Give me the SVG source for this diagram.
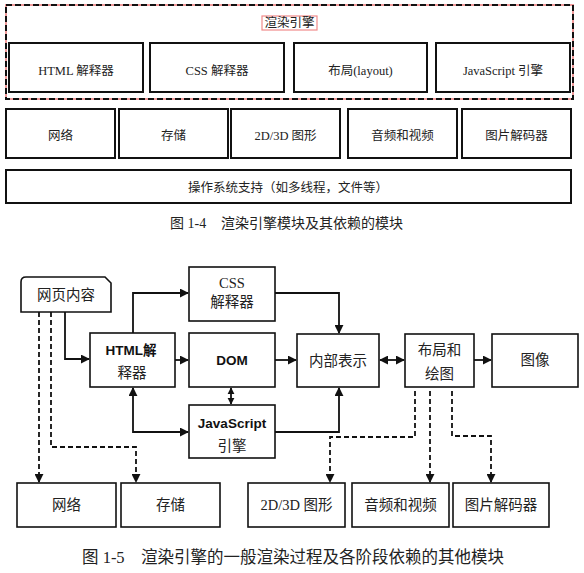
<svg xmlns="http://www.w3.org/2000/svg" width="584" height="573" viewBox="0 0 584 573">
<defs>
<style>
.box{fill:#fff;stroke:#111;stroke-width:2}
.box2{fill:#fff;stroke:#111;stroke-width:1.6}
.t{font-family:"Liberation Serif","Noto Sans CJK SC",serif;font-size:12.5px;fill:#222;text-anchor:middle;dominant-baseline:central}
.t2{font-family:"Liberation Serif","Noto Sans CJK SC",serif;font-size:14.5px;fill:#222;text-anchor:middle;dominant-baseline:central}
.tb{font-family:"Liberation Sans","Noto Sans CJK SC",sans-serif;font-size:13.5px;font-weight:bold;fill:#111;text-anchor:middle;dominant-baseline:central}
.cap{font-family:"Liberation Serif","Noto Sans CJK SC",serif;font-size:14px;fill:#222;dominant-baseline:central}
.cap2{font-family:"Liberation Serif","Noto Sans CJK SC",serif;font-size:16.5px;fill:#222;dominant-baseline:central}
.ln{fill:none;stroke:#111;stroke-width:1.8}
.dl{fill:none;stroke:#111;stroke-width:1.8;stroke-dasharray:5 3}
</style>
<marker id="ah" viewBox="0 0 10 10" refX="9" refY="5" markerWidth="5" markerHeight="5" orient="auto-start-reverse" markerUnits="strokeWidth">
<path d="M0,0 L10,5 L0,10 z" fill="#111"/>
</marker>
<marker id="ahs" viewBox="0 0 10 10" refX="9" refY="5" markerWidth="4" markerHeight="4" orient="auto-start-reverse" markerUnits="strokeWidth">
<path d="M0,0 L10,5 L0,10 z" fill="#111"/>
</marker>
</defs>
<rect width="584" height="573" fill="#fff"/>

<!-- Figure 1-4 -->
<g id="engine">
<rect x="6" y="5" width="567" height="94" fill="none" stroke="#f19a9a" stroke-width="2"/>
<rect x="6" y="5" width="567" height="94" fill="none" stroke="#111" stroke-width="2" stroke-dasharray="6 3"/>
<rect x="262" y="16" width="55" height="14" fill="#fff" stroke="#f08a8a" stroke-width="1.2"/>
<text class="t" x="289.5" y="23">渲染引擎</text>
</g>
<g id="html-parser"><rect class="box" x="9" y="43" width="134" height="49"/><text class="t" x="76" y="71">HTML 解释器</text></g>
<g id="css-parser"><rect class="box" x="150" y="43" width="134" height="49"/><text class="t" x="217" y="71">CSS 解释器</text></g>
<g id="layout"><rect class="box" x="294" y="43" width="133" height="49"/><text class="t" x="360.5" y="71">布局(layout)</text></g>
<g id="js-engine"><rect class="box" x="436" y="43" width="134" height="49"/><text class="t" x="503" y="71">JavaScript 引擎</text></g>

<g id="network"><rect class="box" x="6" y="109" width="109" height="49"/><text class="t" x="60.5" y="136">网络</text></g>
<g id="storage"><rect class="box" x="119" y="109" width="109" height="49"/><text class="t" x="173.5" y="136">存储</text></g>
<g id="graphics"><rect class="box" x="231" y="109" width="109" height="49"/><text class="t" x="285.5" y="136">2D/3D 图形</text></g>
<g id="media"><rect class="box" x="348" y="109" width="109" height="49"/><text class="t" x="402.5" y="136">音频和视频</text></g>
<g id="image-decoder"><rect class="box" x="462" y="109" width="109" height="49"/><text class="t" x="516.5" y="136">图片解码器</text></g>

<g id="os"><rect class="box" x="6" y="170" width="565" height="33"/><text class="t" x="288" y="188">操作系统支持（如多线程，文件等）</text></g>

<text class="cap" x="170" y="223">图 1-4</text>
<text class="cap" x="221" y="223">渲染引擎模块及其依赖的模块</text>

<!-- Figure 1-5 -->
<g id="connectors">
<polyline class="ln" points="65,312 65,359 89,359" marker-end="url(#ah)"/>
<polyline class="ln" points="133,333 133,293 188,293" marker-end="url(#ah)"/>
<line class="ln" x1="175" y1="360" x2="188" y2="360" marker-end="url(#ah)"/>
<line class="ln" x1="231" y1="388" x2="231" y2="404" marker-start="url(#ahs)" marker-end="url(#ahs)"/>
<polyline class="ln" points="133,388 133,432 188,432" marker-start="url(#ah)" marker-end="url(#ah)"/>
<polyline class="ln" points="275,293 339,293 339,333" marker-end="url(#ah)"/>
<line class="ln" x1="275" y1="360" x2="296" y2="360" marker-end="url(#ah)"/>
<polyline class="ln" points="275,432 339,432 339,388" marker-end="url(#ah)"/>
<line class="ln" x1="380" y1="360" x2="404" y2="360" marker-start="url(#ah)" marker-end="url(#ah)"/>
<line class="ln" x1="474" y1="360" x2="491" y2="360" marker-end="url(#ah)"/>
<line class="dl" x1="39" y1="312" x2="39" y2="482" marker-end="url(#ah)"/>
<polyline class="dl" points="51,312 51,447 136,447 136,482" marker-end="url(#ah)"/>
<polyline class="dl" points="415,391 415,437 330,437 330,482" marker-end="url(#ah)"/>
<line class="dl" x1="430" y1="391" x2="430" y2="482" marker-end="url(#ah)"/>
<polyline class="dl" points="452,391 452,436 491,436 491,482" marker-end="url(#ah)"/>
</g>

<g id="web-content"><path class="box2" d="M21,312 L21,282 Q21,277 26,277 L105,277 L111,283 L111,312 Z"/><text class="t2" x="66" y="295">网页内容</text></g>
<g id="css-parser2"><rect class="box2" x="189" y="267" width="86" height="54"/><text class="t2" x="232" y="283">CSS</text><text class="t2" x="232" y="302">解释器</text></g>
<g id="html-parser2"><rect class="box2" x="90" y="333" width="85" height="54"/><text class="tb" x="131" y="350">HTML解</text><text class="t2" x="132" y="373">释器</text></g>
<g id="dom"><rect class="box2" x="189" y="333" width="86" height="54"/><text class="tb" x="232" y="360">DOM</text></g>
<g id="js-engine2"><rect class="box2" x="189" y="405" width="86" height="53"/><text class="tb" x="232" y="423">JavaScript</text><text class="t2" x="232" y="446">引擎</text></g>
<g id="internal"><rect class="box2" x="297" y="334" width="82" height="53"/><text class="t2" x="338" y="361">内部表示</text></g>
<g id="layout-paint"><rect class="box2" x="405" y="334" width="69" height="53"/><text class="t2" x="439.5" y="350">布局和</text><text class="t2" x="439.5" y="374">绘图</text></g>
<g id="image"><rect class="box2" x="492" y="334" width="86" height="53"/><text class="t2" x="535" y="360">图像</text></g>

<g id="network2"><rect class="box2" x="17" y="483" width="99" height="44"/><text class="t2" x="66.5" y="505">网络</text></g>
<g id="storage2"><rect class="box2" x="121" y="483" width="99" height="44"/><text class="t2" x="170.5" y="505">存储</text></g>
<g id="graphics2"><rect class="box2" x="248" y="483" width="97" height="44"/><text class="t2" x="296.5" y="505">2D/3D 图形</text></g>
<g id="media2"><rect class="box2" x="352" y="483" width="97" height="44"/><text class="t2" x="400.5" y="505">音频和视频</text></g>
<g id="image-decoder2"><rect class="box2" x="453" y="483" width="96" height="44"/><text class="t2" x="501" y="505">图片解码器</text></g>

<text class="cap2" x="82" y="557">图 1-5</text>
<text class="cap2" x="141" y="557">渲染引擎的一般渲染过程及各阶段依赖的其他模块</text>
</svg>
